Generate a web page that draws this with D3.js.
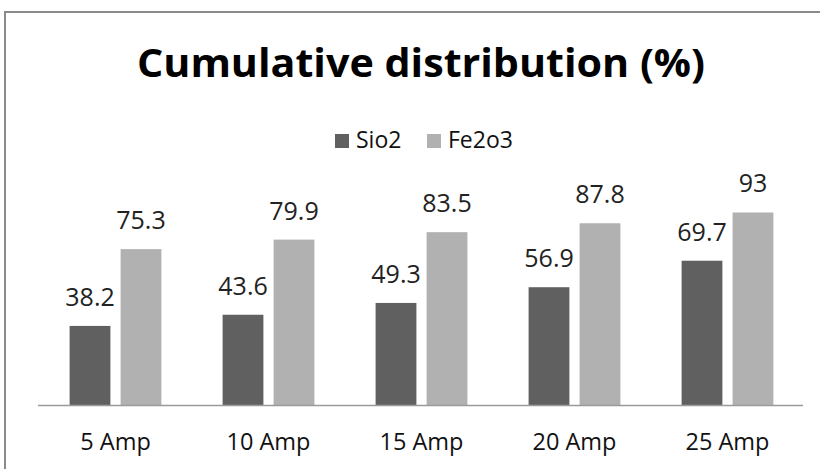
<!DOCTYPE html>
<html>
<head>
<meta charset="utf-8">
<script src="https://cdn.jsdelivr.net/npm/d3@7"></script>
<style>
  html, body { margin: 0; padding: 0; background: #fff; }
  svg { display: block; }
  text { font-family: "Open Sans", "DejaVu Sans", sans-serif; }
</style>
</head>
<body>
<svg id="chart" width="820" height="469"></svg>
<script>
// Categories (current setting) and series
const categories = ["5 Amp", "10 Amp", "15 Amp", "20 Amp", "25 Amp"];
const seriesNames = ["Sio2", "Fe2o3"];
const sio2Values = [38.2, 43.6, 49.3, 56.9, 69.7];
const fe2o3Values = [75.3, 79.9, 83.5, 87.8, 93];
const seriesColors = ["#606060", "#b1b1b1"];
const chartTitle = "Cumulative distribution (%)";

const rows = categories.map((c, i) => ({
  category: c,
  values: [
    { series: seriesNames[0], value: sio2Values[i] },
    { series: seriesNames[1], value: fe2o3Values[i] }
  ]
}));

const svg = d3.select("#chart");
const W = 820, H = 469;

// Outer frame
svg.append("rect")
  .attr("x", 5).attr("y", 12)
  .attr("width", 900).attr("height", 600)
  .attr("fill", "none")
  .attr("stroke", "#8a8a8a")
  .attr("stroke-width", 2);

const plot = { left: 38, right: 803, top: 198, bottom: 405 };

const x0 = d3.scaleBand()
  .domain(categories)
  .range([plot.left + 1, plot.right + 1])
  .paddingInner(0.4)
  .paddingOuter(0.2);

const x1 = d3.scaleBand()
  .domain(seriesNames)
  .range([0, x0.bandwidth()])
  .paddingInner(0.2);

const y = d3.scaleLinear()
  .domain([0, 100])
  .range([plot.bottom, plot.top]);

const color = d3.scaleOrdinal().domain(seriesNames).range(seriesColors);

// Title
svg.append("text")
  .attr("x", 421)
  .attr("y", 77)
  .attr("text-anchor", "middle")
  .attr("font-size", 40)
  .attr("font-weight", "bold")
  .attr("fill", "#000")
  .attr("textLength", 568)
  .attr("lengthAdjust", "spacingAndGlyphs")
  .text(chartTitle);

// Legend
const legendX = [335, 427];
const legend = svg.append("g");
seriesNames.forEach((name, i) => {
  legend.append("rect")
    .attr("x", legendX[i]).attr("y", 134)
    .attr("width", 14).attr("height", 14)
    .attr("fill", color(name));
  legend.append("text")
    .attr("x", legendX[i] + 21)
    .attr("y", 148)
    .attr("font-size", 23)
    .attr("fill", "#111")
    .text(name);
});

// Bars
const groups = svg.append("g")
  .selectAll("g")
  .data(rows)
  .join("g")
  .attr("transform", d => `translate(${x0(d.category)},0)`);

groups.selectAll("rect")
  .data(d => d.values)
  .join("rect")
  .attr("x", d => x1(d.series))
  .attr("y", d => y(d.value))
  .attr("width", x1.bandwidth())
  .attr("height", d => y(0) - y(d.value))
  .attr("fill", d => color(d.series));

// Value labels
groups.selectAll("text.val")
  .data(d => d.values)
  .join("text")
  .attr("class", "val")
  .attr("x", d => x1(d.series) + x1.bandwidth() / 2)
  .attr("y", d => y(d.value) - 20)
  .attr("text-anchor", "middle")
  .attr("font-size", 25)
  .attr("fill", "#222")
  .text(d => String(d.value));

// Category axis
const xAxisScale = d3.scaleBand().domain(categories).range([plot.left, plot.right]);
const axis = svg.append("g")
  .attr("transform", `translate(0,${plot.bottom})`)
  .call(d3.axisBottom(x0).tickSize(0).tickSizeOuter(0));

axis.select(".domain")
  .attr("d", `M${plot.left},0.5H${plot.right}`)
  .attr("stroke", "#9a9a9a")
  .attr("stroke-width", 1.5);

axis.selectAll(".tick text")
  .attr("y", 45)
  .attr("dy", 0)
  .attr("font-family", "Open Sans, sans-serif")
  .attr("font-size", 23.5)
  .attr("fill", "#111");
</script>
</body>
</html>
